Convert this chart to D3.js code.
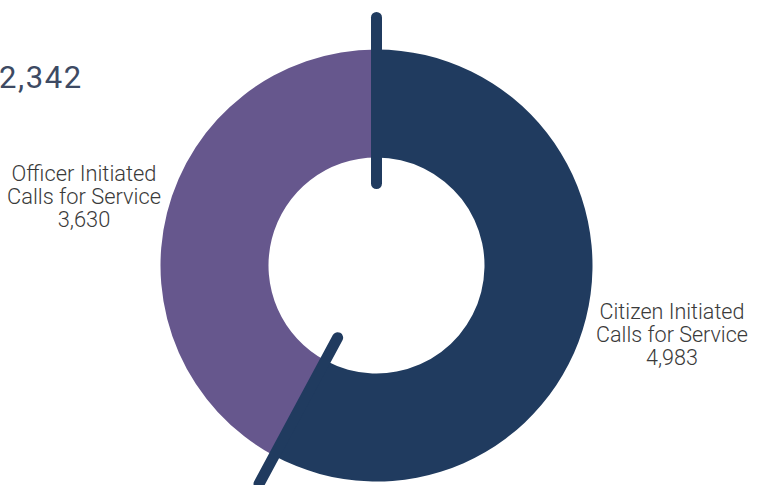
<!DOCTYPE html>
<html>
<head>
<meta charset="utf-8">
<script src="https://cdn.jsdelivr.net/npm/d3@7"></script>
<style>
  html, body { margin: 0; padding: 0; background: #ffffff; }
  svg { display: block; }
</style>
</head>
<body>
<svg id="chart" width="763" height="485"></svg>
<script>
// Calls for service, split by who initiated the call
const categories = ["Citizen Initiated", "Officer Initiated"];
const subtitle = "Calls for Service";
const values = [4983, 3630];
const sliceColors = ["#203b5f", "#66578d"];
const headline = "2,342";

const W = 763, H = 485;
const cx = 376.5, cy = 265.5;
const outerR = 216, innerR = 108;
const dividerInner = 82, dividerOuter = 248;

const svg = d3.select("#chart");
const fmt = d3.format(",");

// Headline figure at the upper left
svg.append("text")
  .attr("x", -1)
  .attr("y", 88)
  .attr("font-family", "Roboto, 'Open Sans', sans-serif")
  .attr("font-weight", 400)
  .attr("font-size", 31)
  .attr("letter-spacing", 1.6)
  .attr("fill", "#3d4a63")
  .text(headline);

const pie = d3.pie().sort(null).startAngle(0).endAngle(2 * Math.PI);
const arcs = pie(values);
const arc = d3.arc().innerRadius(innerR).outerRadius(outerR);

const g = svg.append("g").attr("transform", `translate(${cx},${cy})`);

g.selectAll("path.slice")
  .data(arcs)
  .join("path")
  .attr("class", "slice")
  .attr("d", arc)
  .attr("fill", (d, i) => sliceColors[i]);

// Divider strokes at each slice boundary
g.selectAll("line.divider")
  .data(arcs)
  .join("line")
  .attr("class", "divider")
  .attr("x1", d => dividerInner * Math.sin(d.startAngle))
  .attr("y1", d => -dividerInner * Math.cos(d.startAngle))
  .attr("x2", d => dividerOuter * Math.sin(d.startAngle))
  .attr("y2", d => -dividerOuter * Math.cos(d.startAngle))
  .attr("stroke", sliceColors[0])
  .attr("stroke-width", 11)
  .attr("stroke-linecap", "round");

// Slice labels: name, subtitle and value, centred beside the ring
const labelPos = [
  { x: 672, y: 319 },
  { x: 84, y: 181 }
];
const lineGap = 23;
const targetWidth = 145;

arcs.forEach((d, i) => {
  const lg = svg.append("g")
    .attr("transform", `translate(${labelPos[i].x},${labelPos[i].y})`);
  const inner = lg.append("g");
  const lines = [categories[i], subtitle, fmt(values[i])];
  inner.selectAll("text")
    .data(lines)
    .join("text")
    .attr("x", 0)
    .attr("y", (t, k) => k * lineGap)
    .attr("text-anchor", "middle")
    .attr("font-family", "Roboto, 'Open Sans', sans-serif")
    .attr("font-weight", 300)
    .attr("font-size", 22)
    .attr("fill", "#3a3a3a")
    .text(t => t);
  // condense the type to the narrow face used in the report
  const w = inner.select("text").node().getComputedTextLength();
  inner.attr("transform", `scale(${targetWidth / w},1)`);
});
</script>
</body>
</html>
